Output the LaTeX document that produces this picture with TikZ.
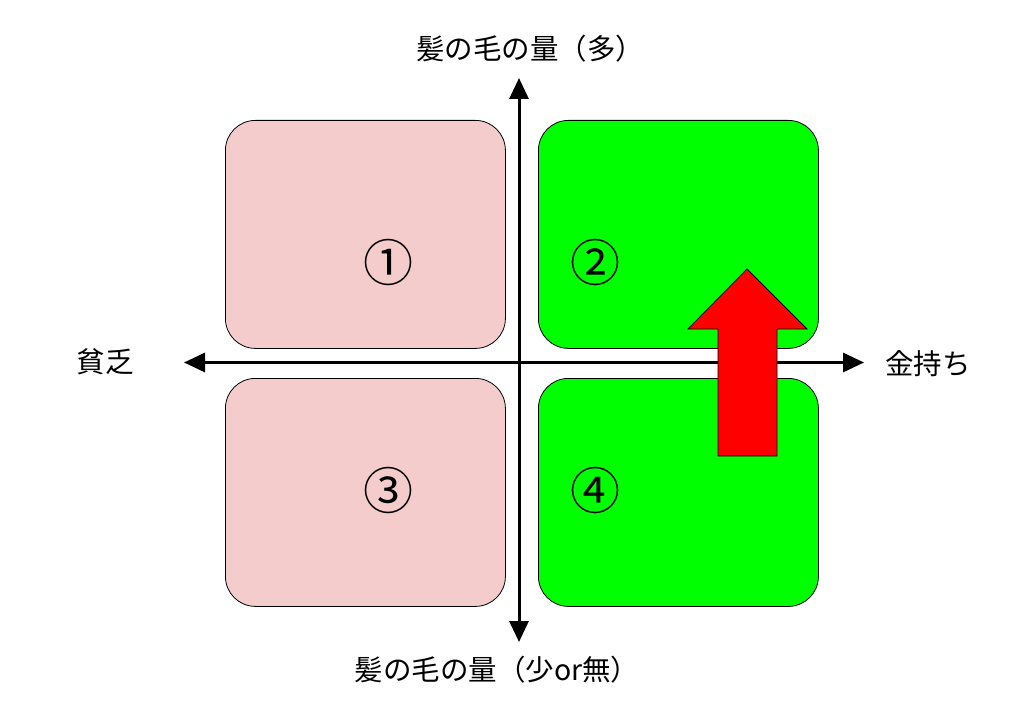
\documentclass[tikz,border=0pt]{standalone}
\usepackage{fontspec}
\setmainfont{Noto Sans CJK JP}
\usetikzlibrary{arrows.meta}
\definecolor{pinkq}{HTML}{F4CCCC}
\definecolor{greenq}{HTML}{00FF00}
\definecolor{redq}{HTML}{FF0000}
\begin{document}
\begin{tikzpicture}[x=1pt,y=-1pt,
  quad/.style={draw=black,line width=0.8pt,rounded corners=30pt,minimum width=280pt,minimum height=228pt,inner sep=0pt,anchor=north west},
  axis/.style={line width=3pt,-{Triangle[length=21pt,width=19pt]}},
  lbl/.style={font=\fontsize{28.5}{32}\selectfont,inner sep=0pt},
  num/.style={font=\fontsize{50}{56}\selectfont,inner sep=0pt}]
\useasboundingbox (0,0) rectangle (1024,711);
\node[quad,fill=pinkq] (q1) at (225,120) {};
\node[quad,fill=greenq] (q2) at (538,120) {};
\node[quad,fill=pinkq] (q3) at (225,378) {};
\node[quad,fill=greenq] (q4) at (538,378) {};
\node[num] (n1) at (388,262) {①};
\node[num] (n2) at (595,262) {②};
\node[num] (n3) at (388,490) {③};
\node[num] (n4) at (595,490) {④};
\coordinate (c) at (519,362.5);
\coordinate (top) at (519,78);
\coordinate (bot) at (519,642);
\coordinate (lft) at (184,362.5);
\coordinate (rgt) at (864,362.5);
\draw[axis] (c) -- (top);
\draw[axis] (c) -- (bot);
\draw[axis] (c) -- (lft);
\draw[axis] (c) -- (rgt);
\draw[fill=redq,draw=black,line width=0.8pt] (718,456) -- (718,329) -- (688,329) -- (747,269) -- (807,329) -- (777,329) -- (777,456) -- cycle;
\node[lbl] (t) at (530,49) {髪の毛の量（多）};
\node[lbl] (b) at (497,670) {髪の毛の量（少or無）};
\node[lbl] (l) at (105,362) {貧乏};
\node[lbl] (r) at (928,364) {金持ち};
\end{tikzpicture}
\end{document}
